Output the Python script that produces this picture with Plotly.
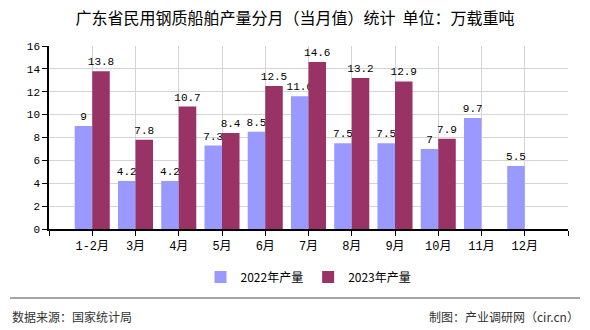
import plotly.graph_objects as go

categories = ["1-2月", "3月", "4月", "5月", "6月", "7月", "8月", "9月", "10月", "11月", "12月"]
values_2022 = [9, 4.2, 4.2, 7.3, 8.5, 11.6, 7.5, 7.5, 7, 9.7, 5.5]
values_2023 = [13.8, 7.8, 10.7, 8.4, 12.5, 14.6, 13.2, 12.9, 7.9, None, None]
series_names = ["2022年产量", "2023年产量"]
colors = ["#9999FF", "#993366"]
title = "广东省民用钢质船舶产量分月（当月值）统计  单位：万载重吨"
source_left = "数据来源：国家统计局"
source_right = "制图：产业调研网（cir.cn）"

W, H = 590, 330
L, R, T, B = 49, 568, 46, 229

def px_x(x):
    return (x - L) / (R - L)

def px_y(y):
    return (B - y) / (B - T)

positions = list(range(1, len(categories) + 1))

def fmt(v):
    if v is None:
        return ""
    return ("%g" % v)

FONT = "Liberation Mono, Noto Sans CJK SC, monospace"

fig = go.Figure()
for name, vals, col in zip(series_names, [values_2022, values_2023], colors):
    fig.add_trace(go.Bar(
        x=positions, y=vals, name=name, marker_color=col, marker_line_width=0,
        text=[fmt(v) for v in vals], textposition="outside", cliponaxis=False,
        constraintext="none",
        textfont=dict(size=11, color="#000000", family=FONT),
    ))

tickvals = list(range(0, len(categories) + 2))
ticktext = [""] + categories + [""]

fig.update_layout(
    width=W, height=H,
    margin=dict(l=L, r=W - R, t=T, b=H - B),
    paper_bgcolor="white", plot_bgcolor="white",
    barmode="group", bargap=0.19, bargroupgap=0,
    font=dict(family="Noto Sans CJK SC, sans-serif", size=12, color="#000000"),
    title=dict(text=title, x=0.5, xanchor="center", y=1 - 18 / H, yanchor="middle",
               font=dict(size=16, color="#000000", family="Noto Sans CJK SC")),
    showlegend=True,
    legend=dict(orientation="h", x=0.5, xanchor="center", y=px_y(277), yanchor="middle",
                font=dict(size=12, color="#000000", family="Noto Sans CJK SC"),
                itemwidth=30, traceorder="normal"),
    xaxis=dict(range=[0, len(categories) + 1], tickmode="array", tickvals=tickvals, ticktext=ticktext,
               showgrid=True, gridcolor="#d4d4d4", gridwidth=1,
               showline=True, linecolor="#000000", linewidth=1.5,
               ticks="outside", ticklen=5, tickcolor="#000000",
               tickfont=dict(size=12, family=FONT), zeroline=False, fixedrange=True),
    yaxis=dict(range=[0, 16], dtick=2, showgrid=True, gridcolor="#d4d4d4", gridwidth=1,
               showline=True, linecolor="#000000", linewidth=1.5,
               ticks="outside", ticklen=5, tickcolor="#000000",
               tickfont=dict(size=11, family=FONT), zeroline=False),
)

fig.add_shape(type="line", xref="paper", yref="paper",
              x0=px_x(10), x1=px_x(580), y0=px_y(298), y1=px_y(298),
              line=dict(color="#888888", width=1.5))

fig.add_annotation(text=source_left, xref="paper", yref="paper", x=px_x(10), y=px_y(316),
                   xanchor="left", yanchor="middle", showarrow=False,
                   font=dict(size=12, color="#333333", family="Noto Sans CJK SC"))
fig.add_annotation(text=source_right, xref="paper", yref="paper", x=px_x(581), y=px_y(316),
                   xanchor="right", yanchor="middle", showarrow=False,
                   font=dict(size=12, color="#333333", family="Noto Sans CJK SC"))

fig.write_html("out.html")
